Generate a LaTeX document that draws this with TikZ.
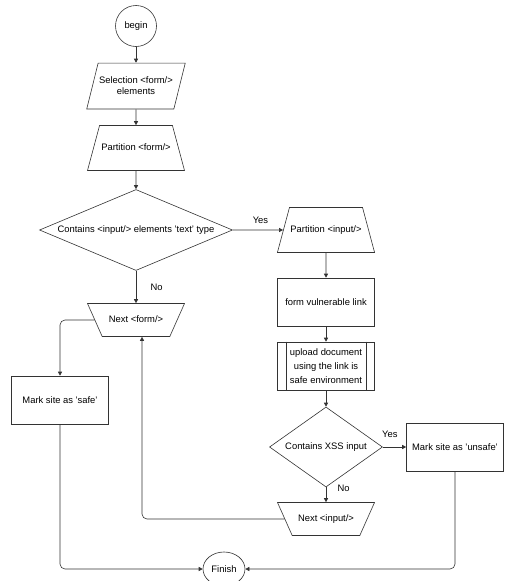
\documentclass[tikz,border=0pt]{standalone}
\usepackage{fontspec}
\setmainfont{Liberation Sans}
\usetikzlibrary{shapes.geometric,arrows.meta}

\begin{document}
\begin{tikzpicture}[x=1pt, y=1pt, node distance=60pt,
	font=\fontsize{9.4}{11}\selectfont,
	line/.style={draw=black!80, line width=0.6pt, rounded corners=5pt, -{Triangle[length=4pt,width=4pt]}},
	term/.style={circle, draw=black!80, line width=0.6pt, minimum size=41pt, inner sep=0pt},
	io/.style={trapezium, trapezium left angle=76, trapezium right angle=104, trapezium stretches body=true, draw=black!80, line width=0.6pt, minimum width=97pt, inner xsep=1pt, inner ysep=14pt, align=center},
	prep/.style={trapezium, trapezium angle=75, trapezium stretches body=true, draw=black!80, line width=0.6pt, minimum width=97pt, text height=7pt, text depth=2pt, inner xsep=1pt, inner ysep=18pt},
	loopend/.style={trapezium, trapezium angle=66, shape border rotate=180, trapezium stretches body=true, draw=black!80, line width=0.6pt, minimum width=97pt, text height=7pt, text depth=2pt, inner xsep=1pt, inner ysep=12pt},
	proc/.style={rectangle, draw=black!80, line width=0.6pt, minimum width=97pt, minimum height=48pt, align=center},
	decision/.style={diamond, draw=black!80, line width=0.6pt, inner sep=0.5pt}]
		\useasboundingbox (0,0) rectangle (505,-581);
		
		\node (x1) [term] at (136,-26) {begin};
		\node (x2) [io, below of=x1] {Selection <form/>\\elements};
		\node (x3) [prep, below of=x2, node distance=62pt] {Partition <form/>};
		\node (x4) [decision, below of=x3, node distance=82pt, aspect=2.3, minimum width=193pt, minimum height=81pt] {Contains <input/> elements 'text' type};
		\node (x5) [loopend, below of=x4, node distance=90pt] {Next <form/>};
		\node (x6) [proc, below of=x5, node distance=80pt, xshift=-76pt] {Mark site as 'safe'};
		
		\node (x7) [prep, right of=x4, node distance=190pt] {Partition <input/>};
		\node (x8) [proc, below of=x7, node distance=72pt] {form vulnerable link};
		\node (x9) [proc, below of=x8, node distance=64pt, inner sep=0.5pt, font=\fontsize{9.4}{14}\selectfont] {upload document\\using the link is\\safe environment};
		\draw[draw=black!80, line width=0.6pt] ([xshift=9pt]x9.north west) -- ([xshift=9pt]x9.south west)
			([xshift=-9pt]x9.north east) -- ([xshift=-9pt]x9.south east);
		\node (x10) [decision, below of=x9, node distance=81pt, aspect=1.4, minimum width=113pt, minimum height=80pt] {Contains XSS input};
		\node (x11) [proc, right of=x10, node distance=129pt] {Mark site as 'unsafe'};
		\node (x12) [loopend, below of=x10, node distance=72pt] {Next <input/>};
		
		\node (x13) [ellipse, draw=black!80, line width=0.6pt, minimum width=42pt, minimum height=34pt, inner sep=0pt] at (224,-569) {Finish};
		
		\draw[line] (x1) -- (x2);
		\draw[line] (x2) -- (x3);
		\draw[line] (x3) -- (x4);
		\draw[line] (x4) -- node[right=11pt]{No} (x5);
		\draw[line] (x4) -- node[above=3pt, pos=0.55]{Yes} (x7);
		\draw[line] (x5.west) -| (x6.north);
		\draw[line] (x6.south) |- (x13.west);
		
		\draw[line] (x7) -- (x8);
		\draw[line] (x8) -- (x9);
		\draw[line] (x9) -- (x10);
		\draw[line] (x10) -- node[above=6pt, pos=0.3]{Yes} (x11);
		\draw[line] (x10) -- node[right=8pt, pos=0.05]{No} (x12);
		\draw[line] (x12.west) -| ([xshift=6pt]x5.south);
		\draw[line] (x11.south) |- (x13.east);
\end{tikzpicture}
\end{document}
